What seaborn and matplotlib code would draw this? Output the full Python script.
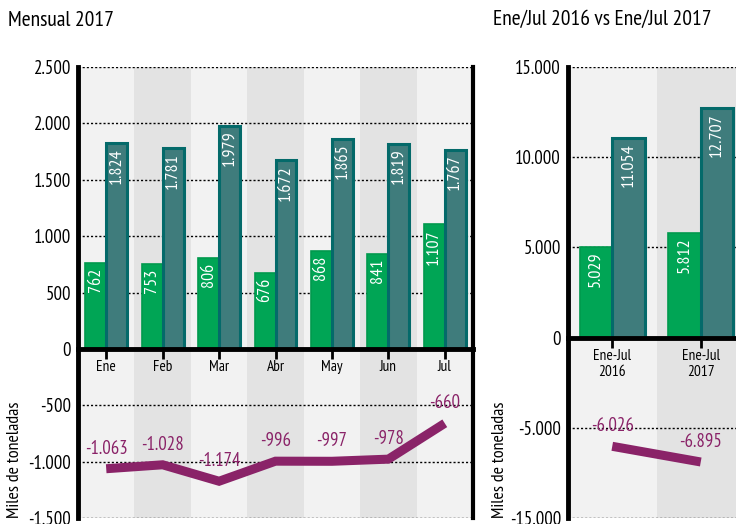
import numpy as np
import pandas as pd
import matplotlib
matplotlib.use("Agg")
import matplotlib.pyplot as plt
import seaborn as sns
from matplotlib import font_manager

# datos
meses = ["Ene", "Feb", "Mar", "Abr", "May", "Jun", "Jul"]
exportaciones = [762, 753, 806, 676, 868, 841, 1107]
importaciones = [1824, 1781, 1979, 1672, 1865, 1819, 1767]
balanza = [-1063, -1028, -1174, -996, -997, -978, -660]

periodos = ["Ene-Jul\n2016", "Ene-Jul\n2017"]
exp_acum = [5029, 5812]
imp_acum = [11054, 12707]
bal_acum = [-6026, -6895]

ticks_mes = [2500, 2000, 1500, 1000, 500, 0, -500, -1000, -1500]
ticks_acum = [15000, 10000, 5000, 0, -5000, -10000]
labels_acum = ["15.000", "10.000", "5.000", "0", "-5.000", "-15.000"]

sns.set_theme(style="white")

# fuente estrecha parecida a Myriad Condensed, si la hay
fuentes = {(f.name, f.stretch) for f in font_manager.fontManager.ttflist}
nombres = {n for n, s in fuentes}
familia, stretch = "DejaVu Sans", "condensed"
for cand in ["PT Sans Narrow", "Fira Sans Condensed", "Reddit Sans Condensed",
             "Asap Condensed", "Barlow Semi Condensed"]:
    if cand in nombres:
        familia = cand
        stretch = next(s for n, s in fuentes if n == cand)
        break
plt.rcParams["font.family"] = [familia, "DejaVu Sans"]
plt.rcParams["font.stretch"] = stretch
plt.rcParams["text.color"] = "black"
plt.rcParams["xtick.color"] = "black"
plt.rcParams["ytick.color"] = "black"
plt.rcParams["axes.labelcolor"] = "black"

VERDE = "#00A555"
VERDE_BORDE = "#00994D"
TEAL = "#3F7C7C"
TEAL_BORDE = "#046A6A"
MORADO = "#8A2368"
FONDO1 = "#F2F2F2"
FONDO2 = "#E3E3E3"


def fmt(v):
    return f"{v:,}".replace(",", ".")


def panel(ax, cats, exp, imp, bal, yticks, ylabels, ylim):
    n = len(cats)
    for i in range(n):
        ax.axvspan(i - 0.5, i + 0.5, color=FONDO1 if i % 2 == 0 else FONDO2, lw=0, zorder=0)

    df = pd.DataFrame({
        "cat": cats * 2,
        "valor": exp + imp,
        "tipo": ["Exportaciones"] * n + ["Importaciones"] * n,
    })
    sns.barplot(data=df, x="cat", y="valor", hue="tipo", palette=[VERDE, TEAL],
                width=0.74, legend=False, ax=ax, zorder=3, saturation=1)
    for cont, borde, lw, vals in zip(ax.containers, [VERDE_BORDE, TEAL_BORDE], [1.2, 2.2], [exp, imp]):
        for p, v in zip(cont.patches, vals):
            p.set_edgecolor(borde)
            p.set_linewidth(lw)
            ax.annotate(fmt(v), (p.get_x() + p.get_width() / 2, v), xytext=(0, -3.5),
                        textcoords="offset points", rotation=90, ha="center", va="top",
                        color="white", fontsize=13, zorder=5)

    x = np.arange(n)
    sns.lineplot(x=x, y=bal, color=MORADO, lw=6.5, ax=ax, zorder=4,
                 solid_capstyle="butt", solid_joinstyle="miter")
    for xi, v in zip(x, bal):
        ax.annotate(fmt(v), (xi, v), xytext=(0, 8), textcoords="offset points",
                    ha="center", va="bottom", color=MORADO, fontsize=13.5, zorder=5)

    ax.set_xlim(-0.5, n - 0.5)
    ax.set_ylim(*ylim)
    ax.set_yticks(yticks)
    ax.set_yticklabels(ylabels, fontsize=13.5)
    for t in yticks:
        if t != 0:
            ax.axhline(t, color="black", lw=1, ls=(0, (1.5, 1.5)), zorder=1)

    ax.set_xticks(x)
    ax.set_xticklabels(cats, fontsize=13.5, linespacing=0.95)
    ax.set_xlabel("")
    ax.set_ylabel("Miles de toneladas", fontsize=13, va="center")

    ax.spines["bottom"].set_position(("data", 0))
    ax.spines["bottom"].set_linewidth(3.5)
    ax.spines["bottom"].set_color("black")
    ax.spines["bottom"].set_zorder(6)
    ax.spines["left"].set_linewidth(3.5)
    ax.spines["left"].set_color("black")
    ax.spines["top"].set_visible(False)
    ax.tick_params(axis="x", length=7, width=2, direction="out", color="black", pad=1,
                   bottom=True)
    ax.tick_params(axis="y", length=0, pad=5)


fig = plt.figure(figsize=(7.36, 5.24), dpi=100)
ax1 = fig.add_axes([78 / 736, 6 / 524, 395 / 736, 451 / 524])
ax2 = fig.add_axes([568 / 736, 6 / 524, 177 / 736, 451 / 524])

panel(ax1, meses, exportaciones, importaciones, balanza,
      ticks_mes, [fmt(t) for t in ticks_mes], (-1500, 2500))
ax1.spines["right"].set_linewidth(3)
ax1.spines["right"].set_color("black")
ax1.yaxis.set_label_coords(-0.16, 0.13)

panel(ax2, periodos, exp_acum, imp_acum, bal_acum,
      ticks_acum, labels_acum, (-10000, 15000))
ax2.spines["right"].set_visible(False)
ax2.yaxis.set_label_coords(-0.385, 0.13)

fig.text(8 / 736, 1 - 20 / 524, "Mensual 2017", fontsize=15.5, va="center", ha="left")
fig.text(493 / 736, 1 - 20 / 524, "Ene/Jul 2016 vs Ene/Jul 2017", fontsize=15.5,
         va="center", ha="left")

fig.savefig("out.png", dpi=100)
